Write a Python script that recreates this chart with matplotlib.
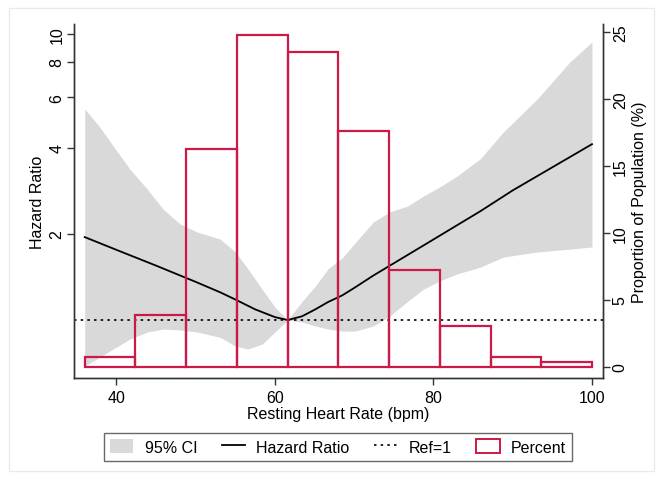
import matplotlib
matplotlib.use("Agg")
import matplotlib.pyplot as plt
from matplotlib.patches import Patch, Rectangle
from matplotlib.lines import Line2D
from matplotlib.ticker import FixedLocator, NullLocator, FixedFormatter

plt.rcParams['font.family'] = ['Liberation Sans', 'DejaVu Sans']

# histogram of resting heart rate (percent of population)
bin_edges = [36.0, 42.4, 48.8, 55.2, 61.6, 68.0, 74.4, 80.8, 87.2, 93.6, 100.0]
percent = [0.75, 3.9, 16.3, 24.8, 23.5, 17.6, 7.25, 3.1, 0.72, 0.35]

# hazard ratio curve
hr_bpm = [36, 40, 45, 50, 53.1, 55.0, 57.5, 60.0, 61.6, 63.4, 65.1, 66.7, 68.5, 70.1, 72.4,
          78.7, 85.9, 90, 100]
hr_val = [1.95, 1.76, 1.55, 1.36, 1.25, 1.18, 1.09, 1.024, 1.0, 1.03, 1.09, 1.156, 1.22, 1.30,
          1.43, 1.82, 2.40, 2.84, 4.12]

# 95% confidence band
ci_bpm = [36, 37.9, 39.6, 41.7, 43.9, 45.9, 48.0, 50.2, 53.1, 55.0, 56.6, 58.4, 60.0, 61.6,
          63.4, 65.1, 66.7, 68.5, 70.1, 72.4, 74.5, 76.7, 78.7, 80.8, 83.0, 85.9, 88.8, 93.1,
          97.2, 100]
ci_upper = [5.47, 4.73, 4.06, 3.37, 2.87, 2.44, 2.17, 2.03, 1.92, 1.73, 1.51, 1.28, 1.11, 1.0,
            1.16, 1.315, 1.51, 1.65, 1.86, 2.20, 2.39, 2.50, 2.71, 2.92, 3.19, 3.66, 4.54, 5.93,
            7.98, 9.38]
ci_lower = [0.69, 0.742, 0.792, 0.858, 0.908, 0.930, 0.923, 0.908, 0.87, 0.811, 0.792, 0.824,
            0.908, 1.0, 0.984, 0.953, 0.930, 0.915, 0.915, 0.953, 1.033, 1.16, 1.28, 1.37, 1.45,
            1.53, 1.66, 1.73, 1.77, 1.80]

hr_ticks = [2, 4, 6, 8, 10]
pct_ticks = [0, 5, 10, 15, 20, 25]

bar_col = '#cc1a48'
band_col = '#d9d9d9'

fig = plt.figure(figsize=(6.63, 4.81), dpi=100)
ax = fig.add_axes([0.1116, 0.212, 0.798, 0.736])
ax2 = ax.twinx()

ax.fill_between(ci_bpm, ci_lower, ci_upper, color=band_col, lw=0, zorder=1)
ax.plot(hr_bpm, hr_val, color='black', lw=1.3, zorder=3)
ax.axhline(1, color='black', lw=1.2, ls=(0, (1.5, 2.5)), zorder=2)

ax.set_yscale('log')
ax.set_xlim(34.65, 101.4)
ax.set_ylim(0.627, 10.84)
ax.yaxis.set_major_locator(FixedLocator(hr_ticks))
ax.yaxis.set_major_formatter(FixedFormatter([str(t) for t in hr_ticks]))
ax.yaxis.set_minor_locator(NullLocator())
ax.set_xticks([40, 60, 80, 100])

widths = [bin_edges[i + 1] - bin_edges[i] for i in range(len(percent))]
ax2.bar(bin_edges[:-1], percent, width=widths, align='edge', fill=False,
        edgecolor=bar_col, lw=1.6, zorder=2)
ax2.set_ylim(-0.82, 25.6)
ax2.set_yticks(pct_ticks)

for a in (ax, ax2):
    a.spines['top'].set_visible(False)
    for s in a.spines.values():
        s.set_color('#333333')
        s.set_linewidth(1.0)
    a.tick_params(direction='out', length=5, width=1, colors='#333333', labelcolor='black',
                  labelsize=11.5)
ax.tick_params(axis='y', labelrotation=90, pad=2)
ax2.tick_params(axis='y', labelrotation=90, pad=2)
for lab in ax.get_yticklabels() + ax2.get_yticklabels():
    lab.set_va('center')

ax.set_xlabel('Resting Heart Rate (bpm)', fontsize=11.5, labelpad=1)
ax.set_ylabel('Hazard Ratio', fontsize=11.5, labelpad=3)
ax2.set_ylabel('Proportion of Population (%)', fontsize=11.5, labelpad=3)

handles = [Patch(facecolor=band_col, edgecolor='none'),
           Line2D([], [], color='black', lw=1.3),
           Line2D([], [], color='black', lw=1.2, ls=(0, (1.5, 2.5))),
           Patch(facecolor='white', edgecolor=bar_col, lw=1.4)]
labels = ['95% CI', 'Hazard Ratio', 'Ref=1', 'Percent']
leg = fig.legend(handles, labels, loc='center', bbox_to_anchor=(0.51, 0.069), ncol=4,
                 frameon=True, fancybox=False, fontsize=11.5, handlelength=1.45,
                 handleheight=1.0, columnspacing=1.55, borderpad=0.4, handletextpad=0.7)
leg.get_frame().set_edgecolor('#444444')
leg.get_frame().set_linewidth(1.0)

fig.patches.append(Rectangle((0.014, 0.018), 0.972, 0.964, transform=fig.transFigure,
                             fill=False, edgecolor='#e6ecec', lw=1.0))

fig.savefig('out.png', dpi=100)
